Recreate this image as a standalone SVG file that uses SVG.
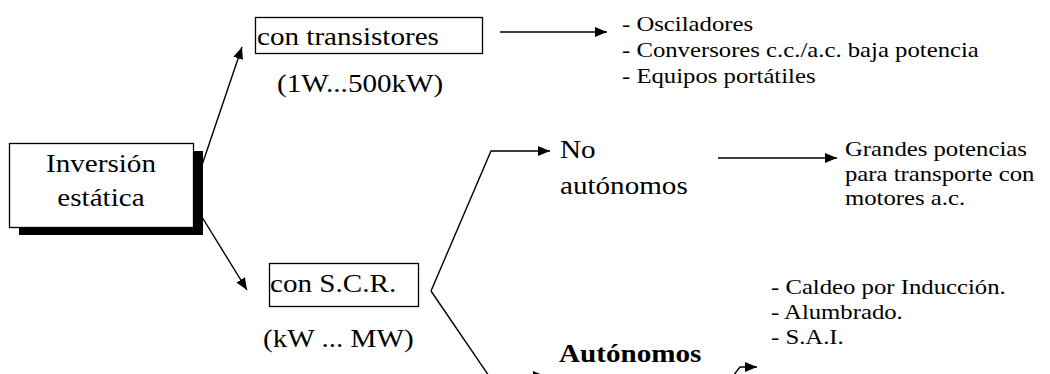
<svg xmlns="http://www.w3.org/2000/svg" width="1050" height="374" viewBox="0 0 1050 374">
<defs>
<style>
.box{fill:#fff;stroke:#000;stroke-width:1.3}
.conn{fill:none;stroke:#000;stroke-width:1.4}
</style>
<marker id="ah" markerUnits="userSpaceOnUse" markerWidth="13" markerHeight="11" refX="12" refY="5" orient="auto">
<path d="M0,0 L12,5 L0,10 Z" fill="#000"/>
</marker>
</defs>
<rect width="1050" height="374" fill="#fff"/>

<g id="connectors">
<path class="conn" d="M201,168 L242,47" marker-end="url(#ah)"/>
<path class="conn" d="M202,217 L247,290" marker-end="url(#ah)"/>
<path class="conn" d="M500,32 L607,32" marker-end="url(#ah)"/>
<path class="conn" d="M431,291 L491,151 L550,151" marker-end="url(#ah)"/>
<path class="conn" d="M431,291 L489,376 L545,376" marker-end="url(#ah)"/>
<path class="conn" d="M718,158 L837,158" marker-end="url(#ah)"/>
<path class="conn" d="M733,376 L740,367 L757,367" marker-end="url(#ah)"/>
</g>

<g id="n-inversion">
<rect x="19" y="151" width="184" height="84" fill="#000"/>
<rect class="box" x="9.5" y="143.5" width="184" height="84"/>
<text style="font-family:'Liberation Serif';font-size:26px;text-anchor:middle" transform="translate(101,172) scale(1.12,1)">Inversión</text>
<text style="font-family:'Liberation Serif';font-size:26px;text-anchor:middle" transform="translate(101,206) scale(1.12,1)">estática</text>
</g>

<g id="n-transistores">
<rect class="box" x="255.5" y="17.5" width="227" height="36"/>
<text style="font-family:'Liberation Serif';font-size:26px" transform="translate(257,45) scale(1.12,1)">con transistores</text>
<text style="font-family:'Liberation Serif';font-size:26px" transform="translate(277,92) scale(1.12,1)">(1W...500kW)</text>
</g>

<g id="n-apps-transistores">
<text style="font-family:'Liberation Serif';font-size:21.5px" transform="translate(622,31) scale(1.15,1)">- Osciladores</text>
<text style="font-family:'Liberation Serif';font-size:21.5px" transform="translate(622,57) scale(1.15,1)">- Conversores c.c./a.c. baja potencia</text>
<text style="font-family:'Liberation Serif';font-size:21.5px" transform="translate(622,83) scale(1.15,1)">- Equipos portátiles</text>
</g>

<g id="n-scr">
<rect class="box" x="269.5" y="263.5" width="149" height="43"/>
<text style="font-family:'Liberation Serif';font-size:26px" transform="translate(270,292) scale(1.12,1)">con S.C.R.</text>
<text style="font-family:'Liberation Serif';font-size:26px" transform="translate(263,347) scale(1.12,1)">(kW ... MW)</text>
</g>

<g id="n-noautonomos">
<text style="font-family:'Liberation Serif';font-size:26px" transform="translate(560,158) scale(1.12,1)">No</text>
<text style="font-family:'Liberation Serif';font-size:26px" transform="translate(560,194) scale(1.12,1)">autónomos</text>
</g>

<g id="n-grandes">
<text style="font-family:'Liberation Serif';font-size:21.5px" transform="translate(845,156) scale(1.15,1)">Grandes potencias</text>
<text style="font-family:'Liberation Serif';font-size:21.5px" transform="translate(845,181) scale(1.15,1)">para transporte con</text>
<text style="font-family:'Liberation Serif';font-size:21.5px" transform="translate(845,205) scale(1.15,1)">motores a.c.</text>
</g>

<g id="n-autonomos">
<text style="font-family:'Liberation Serif';font-size:26px;font-weight:bold" transform="translate(559,362) scale(1.12,1)">Autónomos</text>
</g>

<g id="n-apps-autonomos">
<text style="font-family:'Liberation Serif';font-size:21.5px" transform="translate(771,294) scale(1.15,1)">- Caldeo por Inducción.</text>
<text style="font-family:'Liberation Serif';font-size:21.5px" transform="translate(771,319) scale(1.15,1)">- Alumbrado.</text>
<text style="font-family:'Liberation Serif';font-size:21.5px" transform="translate(771,344) scale(1.15,1)">- S.A.I.</text>
</g>
</svg>
